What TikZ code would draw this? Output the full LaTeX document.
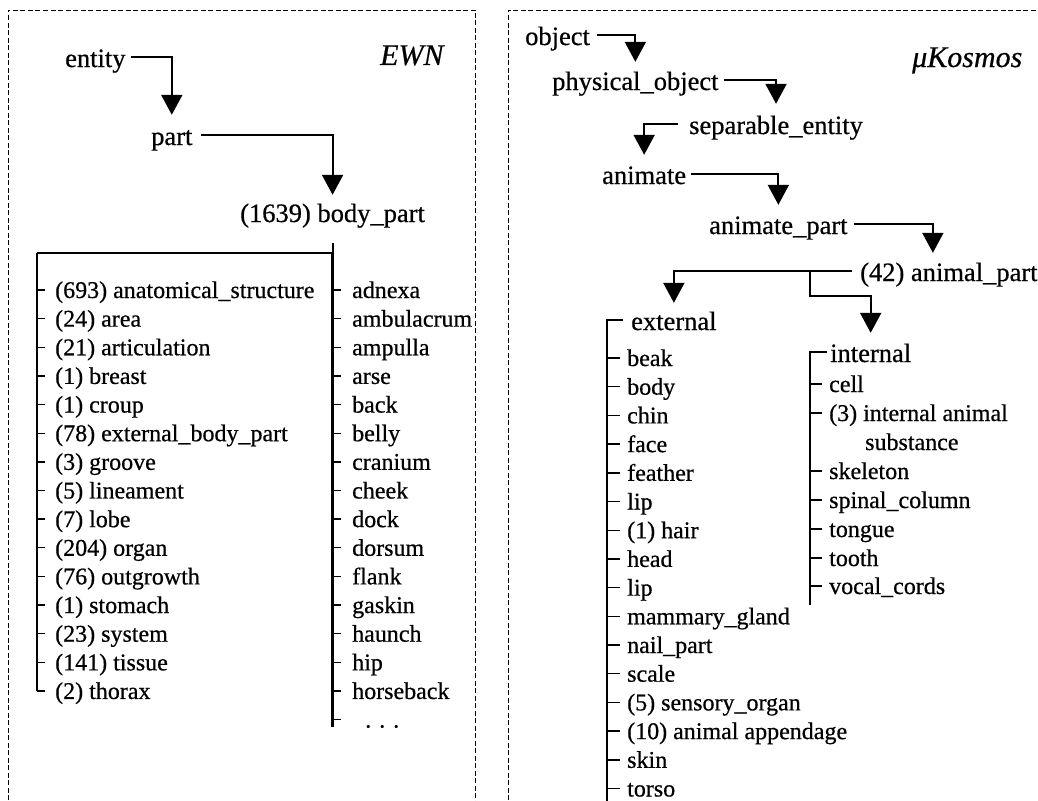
\documentclass[tikz,border=0pt]{standalone}
\usepackage{fontspec}
\setmainfont{Liberation Serif}[FakeBold=0.6]
\usetikzlibrary{arrows.meta}
\begin{document}
\begin{tikzpicture}[x=1pt,y=-1pt,
  item/.style={inner sep=0pt, anchor=base west, text height=16pt, text depth=0pt,
               font=\fontsize{24}{28}\selectfont},
  head/.style={inner sep=0pt, anchor=base west, text height=20pt, text depth=0pt,
               font=\fontsize{26.5}{30}\selectfont},
  ttl/.style={inner sep=0pt, anchor=base west, font=\fontsize{30}{34}\selectfont\itshape},
  isa/.style={line width=2pt, -{Triangle[width=21pt,length=20pt]}},
  link/.style={line width=2pt},
  tick/.style={line width=1.4pt},
  spine/.style={line width=2.8pt},
  frame/.style={line width=0.9pt, dash pattern=on 5pt off 2.5pt}]
\useasboundingbox (0,0) rectangle (1038,800);
\clip (0,0) rectangle (1038,800);

% panel frames, open at the bottom
\draw[frame] (8,830) -- (8,10) -- (475,10) -- (475,830);
\draw[frame] (508,830) -- (508,10) -- (1045,10);

% ---------------- EWN hierarchy ----------------
\node[ttl]  (ewn)    at (380,65)  {EWN};
\node[head] (entity) at (65,67)   {entity};
\node[head] (part)   at (151,145) {part};
\node[head] (bp)     at (240,222) {(1639) body\_part};

\draw[isa] ([xshift=5pt]entity.east) -| ([yshift=10pt]part.north);
\draw[isa] ([xshift=8pt]part.east) -| ([yshift=7pt]bp.north);

% hyponyms of body_part
\foreach \t [count=\i] in {{(693) anatomical\_structure},{(24) area},{(21) articulation},
    {(1) breast},{(1) croup},{(78) external\_body\_part},{(3) groove},{(5) lineament},
    {(7) lobe},{(204) organ},{(76) outgrowth},{(1) stomach},{(23) system},
    {(141) tissue},{(2) thorax}}
  \node[item] (L\i) at (55,{298+(\i-1)*28.64}) {\t};

\foreach \t [count=\i] in {adnexa,ambulacrum,ampulla,arse,back,belly,cranium,cheek,
    dock,dorsum,flank,gaskin,haunch,hip,horseback,{\hspace*{13pt}. . .}}
  \node[item] (R\i) at (352,{298+(\i-1)*28.64}) {\t};

\coordinate (sL) at (37,253);
\draw[link] ([yshift=-21pt]bp.south) -- (bp.south |- sL) -- (sL);
\draw[spine] (sL) -- (sL |- L15.west);
\draw[spine] ([yshift=-31pt]bp.south) -- ([yshift=-7pt]bp.south |- R16.west);
\foreach \i in {1,...,15}
  \draw[tick] (sL |- L\i.west) -- ([xshift=-10pt]L\i.west);
\foreach \i in {1,...,16}
  \draw[tick] (bp.south |- R\i.west) -- ([xshift=-11pt]R\i.west);

% ---------------- muKosmos hierarchy ----------------
\node[ttl]  (muk)  at (912,67)  {μKosmos};
\node[head] (obj)  at (525,45)  {object};
\node[head] (phys) at (552,90)  {physical\_object};
\node[head] (sep)  at (689,134) {separable\_entity};
\node[head] (anim) at (602,184) {animate};
\node[head] (anp)  at (709,234) {animate\_part};
\node[head] (alp)  at (860,281) {(42) animal\_part};
\node[head] (ext)  at (631,330) {external};
\node[head] (int)  at (830,362) {internal};

\draw[isa] ([xshift=7pt]obj.east)   -| ([yshift=8pt]phys.north);
\draw[isa] ([xshift=5pt]phys.east)  -| ([yshift=10pt]sep.north);
\draw[isa] ([xshift=-11pt]sep.west) -| ([yshift=9pt]anim.north);
\draw[isa] ([xshift=5pt]anim.east)  -| ([yshift=9pt]anp.north);
\draw[isa] ([xshift=6pt]anp.east)   -| ([xshift=-16pt,yshift=8pt]alp.north);
\draw[isa] ([xshift=-8pt]alp.west)  -| ([yshift=7pt]ext.north);
\coordinate (br) at (810,296);
\draw[isa] (br |- alp.west) -- (br) -| ([yshift=9pt]int.north);

% external parts
\foreach \t [count=\i] in {beak,body,chin,face,feather,lip,{(1) hair},head,lip,
    mammary\_gland,nail\_part,scale,{(5) sensory\_organ},{(10) animal appendage},
    skin,torso}
  \node[item] (E\i) at (627,{366+(\i-1)*28.7}) {\t};
\coordinate (sE) at (607,0);
\draw[spine] ([xshift=-8pt]ext.west) -- (sE |- ext.west) -- (sE |- 0,830);
\foreach \i in {1,...,16}
  \draw[tick] (sE |- E\i.west) -- ([xshift=-7pt]E\i.west);

% internal parts
\node[item] (I1) at (829,392) {cell};
\node[item] (I2) at (829,421) {(3) internal animal};
\node[item] (I2b) at (865,450) {substance};
\node[item] (I3) at (829,479) {skeleton};
\node[item] (I4) at (829,508) {spinal\_column};
\node[item] (I5) at (829,537) {tongue};
\node[item] (I6) at (829,566) {tooth};
\node[item] (I7) at (829,594) {vocal\_cords};
\coordinate (sI) at (810,0);
\draw[spine] ([xshift=-3pt]int.west) -- (sI |- int.west) -- (sI |- 0,605);
\foreach \i in {1,...,7}
  \draw[tick] (sI |- I\i.west) -- ([xshift=-7pt]I\i.west);
\end{tikzpicture}
\end{document}
